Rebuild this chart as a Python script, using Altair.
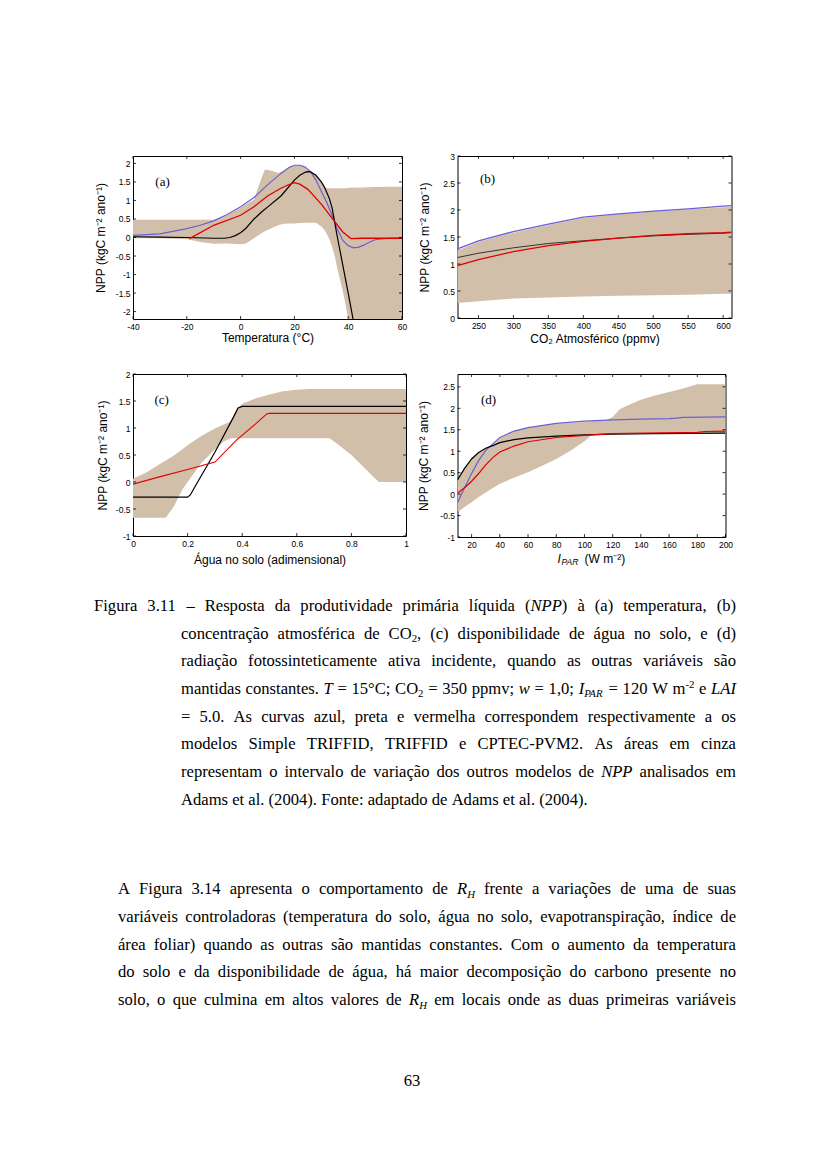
import re
import unicodedata
import altair as alt
import pandas as pd

# ---------------- panel (a): temperature ----------------
A_BAND_X = [-40, -30, -20, -15, -10, -5, 0, 2, 5, 7, 9, 10, 12, 14, 16, 18, 20, 22, 24, 26, 28,
            30, 31, 32, 33, 34, 35, 36, 37, 38, 39, 40, 45, 50, 55, 60]
A_BAND_HI = [0.48, 0.48, 0.48, 0.48, 0.48, 0.6, 0.8, 0.9, 1.02, 1.45, 1.83, 1.83, 1.79, 1.74, 1.8, 1.9,
             1.95, 1.95, 1.88, 1.78, 1.7, 1.5, 1.4, 1.33, 1.33, 1.33, 1.33, 1.33, 1.33, 1.33, 1.33,
             1.34, 1.35, 1.36, 1.37, 1.37]
A_BAND_LO = [-0.02, -0.02, -0.05, -0.12, -0.17, -0.16, -0.18, -0.16, -0.02, 0.08, 0.17, 0.2, 0.27,
             0.33, 0.37, 0.38, 0.38, 0.39, 0.4, 0.4, 0.4, 0.3, 0.22, 0.1, -0.05, -0.25, -0.5, -0.85,
             -1.15, -1.45, -1.8, -2.2, -2.2, -2.2, -2.2, -2.2]
A_BLUE_X = [-40, -30, -20, -15, -10, -5, 0, 5, 10, 15, 18, 20, 22, 24, 26, 28, 30, 32, 34, 36, 38,
            40, 42, 44, 46, 48, 50, 55, 60]
A_BLUE_Y = [0.06, 0.1, 0.24, 0.33, 0.45, 0.62, 0.83, 1.08, 1.42, 1.73, 1.89, 1.95, 1.95, 1.9, 1.78,
            1.55, 1.25, 0.95, 0.6, 0.22, -0.08, -0.22, -0.28, -0.26, -0.2, -0.12, -0.06, -0.02, -0.01]
A_BLACK_X = [-40, -30, -20, -10, -6, -4, -2, 0, 2, 5, 8, 10, 15, 20, 22, 24, 25, 26, 28, 30, 31,
             32, 33, 34, 35, 36, 38, 40, 41.8]
A_BLACK_Y = [0.02, 0.01, 0.0, -0.02, -0.02, 0.0, 0.05, 0.13, 0.25, 0.5, 0.7, 0.82, 1.12, 1.55,
             1.68, 1.76, 1.78, 1.77, 1.68, 1.5, 1.38, 1.22, 1.05, 0.8, 0.4, 0.0, -0.75, -1.5, -2.2]
A_RED_X = [-19, -10, 0, 5, 10, 15, 18, 20, 22, 25, 30, 35, 38, 41, 45, 50, 60]
A_RED_Y = [-0.03, 0.33, 0.6, 0.83, 1.12, 1.33, 1.43, 1.48, 1.44, 1.3, 0.9, 0.43, 0.15, -0.03,
           -0.02, -0.02, -0.02]
A_XTICKS = [-40, -20, 0, 20, 40, 60]
A_YTICKS = [-2, -1.5, -1, -0.5, 0, 0.5, 1, 1.5, 2]

# ---------------- panel (b): CO2 ----------------
B_X = [220, 250, 300, 350, 400, 450, 500, 550, 600, 612]
B_BAND_HI = [1.25, 1.41, 1.58, 1.72, 1.85, 1.92, 1.97, 2.01, 2.05, 2.06]
B_BAND_LO = [0.28, 0.31, 0.36, 0.38, 0.4, 0.41, 0.42, 0.43, 0.45, 0.45]
B_BLUE_Y = [1.28, 1.43, 1.6, 1.74, 1.87, 1.93, 1.98, 2.02, 2.07, 2.08]
B_BLACK_Y = [1.12, 1.2, 1.3, 1.38, 1.43, 1.48, 1.52, 1.55, 1.57, 1.58]
B_RED_Y = [0.97, 1.08, 1.23, 1.34, 1.42, 1.48, 1.53, 1.56, 1.58, 1.59]
B_XTICKS = [250, 300, 350, 400, 450, 500, 550, 600]
B_YTICKS = [0, 0.5, 1, 1.5, 2, 2.5, 3]

# ---------------- panel (c): soil water ----------------
C_BAND_X = [0, 0.05, 0.1, 0.12, 0.15, 0.18, 0.2, 0.25, 0.3, 0.33, 0.35, 0.36, 0.38, 0.4, 0.45,
            0.5, 0.55, 0.6, 0.65, 0.72, 0.75, 0.8, 0.85, 0.9, 1.0]
C_BAND_HI = [0.06, 0.18, 0.34, 0.4, 0.49, 0.6, 0.68, 0.85, 0.99, 1.06, 1.1, 1.15, 1.35, 1.45,
             1.55, 1.62, 1.68, 1.71, 1.72, 1.72, 1.72, 1.72, 1.72, 1.72, 1.72]
C_BAND_LO = [-0.66, -0.66, -0.66, -0.66, -0.45, -0.15, 0.0, 0.35, 0.6, 0.74, 0.79, 0.81, 0.81,
             0.81, 0.81, 0.81, 0.81, 0.81, 0.81, 0.81, 0.7, 0.5, 0.25, 0.0, 0.0]
C_BLACK_X = [0, 0.2, 0.21, 0.23, 0.3, 0.37, 0.385, 0.4, 1.0]
C_BLACK_Y = [-0.28, -0.28, -0.24, -0.06, 0.55, 1.22, 1.37, 1.4, 1.4]
C_RED_X = [0, 0.1, 0.2, 0.3, 0.38, 0.45, 0.49, 0.5, 1.0]
C_RED_Y = [-0.04, 0.1, 0.23, 0.37, 0.78, 1.08, 1.26, 1.27, 1.27]
C_XTICKS = [0, 0.2, 0.4, 0.6, 0.8, 1]
C_YTICKS = [-1, -0.5, 0, 0.5, 1, 1.5, 2]

# ---------------- panel (d): PAR ----------------
D_BAND_X = [10, 15, 20, 25, 30, 35, 40, 50, 60, 70, 80, 90, 100, 105, 110, 115, 120, 125, 130,
            140, 150, 160, 170, 180, 190, 200]
D_BAND_HI = [0.33, 0.6, 0.85, 0.97, 1.07, 1.15, 1.3, 1.47, 1.54, 1.6, 1.64, 1.66, 1.68, 1.7, 1.71,
             1.72, 1.8, 1.98, 2.06, 2.2, 2.3, 2.38, 2.46, 2.56, 2.56, 2.56]
D_BAND_LO = [-0.42, -0.3, -0.19, -0.07, 0.04, 0.14, 0.24, 0.38, 0.51, 0.66, 0.82, 1.01, 1.23, 1.38,
             1.39, 1.4, 1.4, 1.41, 1.41, 1.41, 1.41, 1.42, 1.42, 1.42, 1.42, 1.42]
D_BLUE_X = [10, 15, 20, 25, 30, 35, 40, 50, 60, 80, 100, 120, 140, 160, 165, 170, 200]
D_BLUE_Y = [-0.2, 0.15, 0.48, 0.78, 1.02, 1.17, 1.32, 1.47, 1.55, 1.65, 1.7, 1.73, 1.75, 1.76,
            1.77, 1.79, 1.8]
D_BLACK_X = [10, 15, 20, 25, 30, 35, 40, 50, 60, 80, 100, 120, 150, 200]
D_BLACK_Y = [0.33, 0.6, 0.82, 0.97, 1.07, 1.13, 1.2, 1.27, 1.31, 1.35, 1.38, 1.4, 1.41, 1.42]
D_RED_X = [10, 15, 20, 25, 30, 35, 40, 50, 60, 80, 100, 120, 180, 185, 200]
D_RED_Y = [0.02, 0.15, 0.3, 0.48, 0.68, 0.85, 0.98, 1.12, 1.22, 1.32, 1.37, 1.41, 1.44, 1.46, 1.47]
D_XTICKS = [20, 40, 60, 80, 100, 120, 140, 160, 180, 200]
D_YTICKS = [-1, -0.5, 0, 0.5, 1, 1.5, 2, 2.5]

YTITLE = "NPP (kgC m⁻² ano⁻¹)"

# ---------------- page text ----------------
CAPTION = [
    "Figura 3.11 – Resposta da produtividade primária líquida ([i:NPP]) à (a) temperatura, (b)",
    "concentração atmosférica de CO[s:2], (c) disponibilidade de água no solo, e (d)",
    "radiação fotossinteticamente ativa incidente, quando as outras variáveis são",
    "mantidas constantes. [i:T] = 15°C; CO[s:2] = 350 ppmv; [i:w] = 1,0; [i:I][is:PAR] = 120 W m[S:-2] e [i:LAI]",
    "= 5.0. As curvas azul, preta e vermelha correspondem respectivamente a os",
    "modelos Simple TRIFFID, TRIFFID e CPTEC-PVM2. As áreas em cinza",
    "representam o intervalo de variação dos outros modelos de [i:NPP] analisados em",
    "Adams et al. (2004). Fonte: adaptado de Adams et al. (2004).",
]
BODY = [
    "A Figura 3.14 apresenta o comportamento de [i:R][is:H] frente a variações de uma de suas",
    "variáveis controladoras (temperatura do solo, água no solo, evapotranspiração, índice de",
    "área foliar) quando as outras são mantidas constantes. Com o aumento da temperatura",
    "do solo e da disponibilidade de água, há maior decomposição do carbono presente no",
    "solo, o que culmina em altos valores de [i:R][is:H] em locais onde as duas primeiras variáveis",
]
PAGE_NUMBER = "63"

BAND = "#d2bfa9"
BLUE = "#6a5fd6"
RED = "#e00000"
BLACK = "#000000"
SANS = "Liberation Sans"
SERIF = "Liberation Serif"


def axis(values, title, title_pos, vertical):
    kw = dict(values=values, title=title, labelFont=SANS, labelFontSize=8.5, labelColor="black",
              labelPadding=3, labelFlush=False, labelOverlap=False, ticks=False, domain=False,
              grid=False, labelExpr="toString(datum.value)", titleFont=SANS, titleFontSize=12,
              titleFontWeight="normal", titleColor="black", titleBaseline="middle")
    if vertical:
        kw["titleX"] = title_pos
    else:
        kw["titleY"] = title_pos
    return alt.Axis(**kw)


def panel(xdom, ydom, xt, yt, w, h, band, lines, label, xtitle, ytitle_x, xtitle_y, extra=()):
    xax = axis(xt, xtitle, xtitle_y, False)
    yax = axis(yt, YTITLE, ytitle_x, True)
    xs = alt.Scale(domain=xdom, nice=False, zero=False)
    ys = alt.Scale(domain=ydom, nice=False, zero=False)
    X = alt.X("x:Q", scale=xs, axis=xax, title=xtitle)
    Y = alt.Y("y:Q", scale=ys, axis=yax, title=YTITLE)
    bx, blo, bhi = band
    layers = [
        alt.Chart(pd.DataFrame({"x": bx, "y": blo, "hi": bhi}))
        .mark_area(color=BAND, opacity=1, clip=True)
        .encode(x=X, y=Y, y2="hi:Q")
    ]
    for lx, ly, col, sw in lines:
        layers.append(
            alt.Chart(pd.DataFrame({"x": lx, "y": ly}))
            .mark_line(color=col, strokeWidth=sw, clip=True)
            .encode(x=X, y=Y)
        )
    # inward MATLAB-style ticks on all four sides
    tx = pd.DataFrame({"x": xt})
    ty = pd.DataFrame({"y": yt})
    tk = dict(color="black", strokeWidth=0.8)
    layers += [
        alt.Chart(tx).mark_rule(**tk).encode(x=X, y=alt.value(h - 3), y2=alt.value(h)),
        alt.Chart(tx).mark_rule(**tk).encode(x=X, y=alt.value(0), y2=alt.value(3)),
        alt.Chart(ty).mark_rule(**tk).encode(y=Y, x=alt.value(0), x2=alt.value(3)),
        alt.Chart(ty).mark_rule(**tk).encode(y=Y, x=alt.value(w - 3), x2=alt.value(w)),
    ]
    lab_x, lab_y, lab_t = label
    layers.append(
        alt.Chart(pd.DataFrame({"x": [lab_x], "y": [lab_y], "t": [lab_t]}))
        .mark_text(font=SERIF, fontSize=13, align="center", baseline="middle", color="black")
        .encode(x=X, y=Y, text="t:N")
    )
    layers += list(extra)
    return alt.layer(*layers).properties(width=w, height=h)


# ---- panel (d) composite x-axis title: I_PAR (W m-2) ----
HD = 163
d_title = [
    alt.Chart(pd.DataFrame({"t": ["I"]})).mark_text(
        font=SANS, fontSize=12, fontStyle="italic", align="left", baseline="middle", color="black"
    ).encode(x=alt.value(100), y=alt.value(HD + 22), text="t:N"),
    alt.Chart(pd.DataFrame({"t": ["PAR"]})).mark_text(
        font=SANS, fontSize=8.5, fontStyle="italic", align="left", baseline="middle", color="black"
    ).encode(x=alt.value(104), y=alt.value(HD + 25), text="t:N"),
    alt.Chart(pd.DataFrame({"t": ["(W m⁻²)"]})).mark_text(
        font=SANS, fontSize=12, align="left", baseline="middle", color="black"
    ).encode(x=alt.value(127), y=alt.value(HD + 22), text="t:N"),
]

pa = panel([-40, 60], [-2.2, 2.2], A_XTICKS, A_YTICKS, 269, 163,
           (A_BAND_X, A_BAND_LO, A_BAND_HI),
           [(A_BLUE_X, A_BLUE_Y, BLUE, 1.2), (A_BLACK_X, A_BLACK_Y, BLACK, 1.2),
            (A_RED_X, A_RED_Y, RED, 1.3)],
           (-29, 1.51, "(a)"), "Temperatura (°C)", -33, 18)
pb = panel([220, 612], [0, 3], B_XTICKS, B_YTICKS, 274, 162,
           (B_X, B_BAND_LO, B_BAND_HI),
           [(B_X, B_BLUE_Y, BLUE, 1.3), (B_X, B_BLACK_Y, "#333333", 1.0),
            (B_X, B_RED_Y, RED, 1.3)],
           (263, 2.57, "(b)"), "CO₂ Atmosférico (ppmv)", -33, 20)
pc = panel([0, 1], [-1, 2], C_XTICKS, C_YTICKS, 273, 162,
           (C_BAND_X, C_BAND_LO, C_BAND_HI),
           [(C_BLACK_X, C_BLACK_Y, BLACK, 1.2), (C_RED_X, C_RED_Y, RED, 1.1)],
           (0.105, 1.52, "(c)"), "Água no solo (adimensional)", -31, 23)
pd_ = panel([10, 200], [-1, 2.8], D_XTICKS, D_YTICKS, 268, HD,
            (D_BAND_X, D_BAND_LO, D_BAND_HI),
            [(D_BLUE_X, D_BLUE_Y, BLUE, 1.2), (D_BLACK_X, D_BLACK_Y, BLACK, 1.2),
             (D_RED_X, D_RED_Y, RED, 1.2)],
            (32, 2.2, "(d)"), "", -34, 22, extra=d_title)

# ---------------- justified text layout (Times-compatible metrics) ----------------
REG = {" ": 250, "!": 333, "(": 333, ")": 333, ",": 250, "-": 333, ".": 250, "/": 278, ":": 278,
       ";": 278, "=": 564, "°": 400, "–": 500}
for ch in "0123456789":
    REG[ch] = 500
REG.update(dict(zip("ABCDEFGHIJKLMNOPQRSTUVWXYZ",
                    [722, 667, 667, 722, 611, 556, 722, 722, 333, 389, 722, 611, 889, 722, 722,
                     556, 722, 667, 556, 611, 722, 722, 944, 722, 722, 611])))
REG.update(dict(zip("abcdefghijklmnopqrstuvwxyz",
                    [444, 500, 444, 500, 444, 333, 500, 500, 278, 278, 500, 278, 778, 500, 500,
                     500, 500, 333, 389, 278, 500, 500, 722, 500, 500, 444])))
ITA = dict(REG)
ITA.update({"A": 611, "H": 722, "I": 333, "L": 556, "N": 667, "P": 611, "R": 611, "T": 556,
            "w": 667})

FS = 16.6
SMALL = 0.65


def ch_w(c, italic):
    tab = ITA if italic else REG
    if c not in tab:
        c = unicodedata.normalize("NFD", c)[0]
    return tab.get(c, 500)


def seg_w(text, style):
    italic = style in ("i", "is")
    size = FS * (SMALL if style in ("s", "is", "S") else 1)
    return sum(ch_w(c, italic) for c in text) * size / 1000.0


def parse(word):
    parts = re.split(r"\[(i|s|is|S):([^\]]+)\]", word)
    segs = []
    i = 0
    while i < len(parts):
        if parts[i]:
            segs.append((parts[i], "r"))
        if i + 2 < len(parts):
            segs.append((parts[i + 2], parts[i + 1]))
        i += 3
    return segs


def layout_line(markup, x0, x1, yb, justify):
    words = [parse(w) for w in markup.split(" ")]
    widths = [sum(seg_w(t, s) for t, s in p) for p in words]
    if justify and len(words) > 1:
        gap = (x1 - x0 - sum(widths)) / (len(words) - 1)
    else:
        gap = 0.25 * FS
    rows = []
    x = x0
    for p, w in zip(words, widths):
        cx = x
        for t, s in p:
            rows.append({"x": cx, "y": yb, "t": t, "style": s})
            cx += seg_w(t, s)
        x += w + gap
    return rows


# text cell origin (page coords): left of first panel column, top of third grid row
OX, OY = 132, 591
RIGHT = 735
CAP_BASE = [610, 637.5, 665, 692.5, 720.5, 748, 776, 803.5]
BODY_BASE = [893, 920.5, 948.5, 976, 1004]

rows = []
for k, (line, yb) in enumerate(zip(CAPTION, CAP_BASE)):
    x0 = 93 if k == 0 else 180
    rows += layout_line(line, x0 - OX, RIGHT - OX, yb - OY, justify=(k < len(CAPTION) - 1))
for line, yb in zip(BODY, BODY_BASE):
    rows += layout_line(line, 117 - OX, RIGHT - OX, yb - OY, justify=True)
text_df = pd.DataFrame(rows)

STYLES = {
    "r": dict(fontSize=FS, fontStyle="normal", dy=0),
    "i": dict(fontSize=FS, fontStyle="italic", dy=0),
    "s": dict(fontSize=FS * SMALL, fontStyle="normal", dy=3.5),
    "is": dict(fontSize=FS * SMALL, fontStyle="italic", dy=3.5),
    "S": dict(fontSize=FS * SMALL, fontStyle="normal", dy=-6),
}
tx = alt.X("x:Q", scale=None, axis=None)
ty = alt.Y("y:Q", scale=None, axis=None)
text_layers = []
for st, props in STYLES.items():
    sub = text_df[text_df["style"] == st]
    if len(sub) == 0:
        continue
    text_layers.append(
        alt.Chart(sub).mark_text(font=SERIF, align="left", baseline="alphabetic", color="black",
                                 **props)
        .encode(x=tx, y=ty, text="t:N")
    )
text_layers.append(
    alt.Chart(pd.DataFrame({"x": [411 - OX], "y": [1085 - OY], "t": [PAGE_NUMBER]}))
    .mark_text(font=SERIF, fontSize=FS, align="center", baseline="alphabetic", color="black")
    .encode(x=tx, y=ty, text="t:N")
)
text_cell = alt.layer(*text_layers).properties(
    width=1, height=1, view=alt.ViewBackground(strokeOpacity=0)
)

chart = alt.concat(
    pa, pb, pc, pd_, text_cell, columns=2, spacing={"row": 55, "column": 51.5}, bounds="flush"
).properties(
    padding={"left": 85, "top": 143, "right": 5, "bottom": 5},
    background="white",
).configure_view(stroke="black", strokeWidth=1)

chart.save("out.html", embed_options={"renderer": "svg", "actions": False})
